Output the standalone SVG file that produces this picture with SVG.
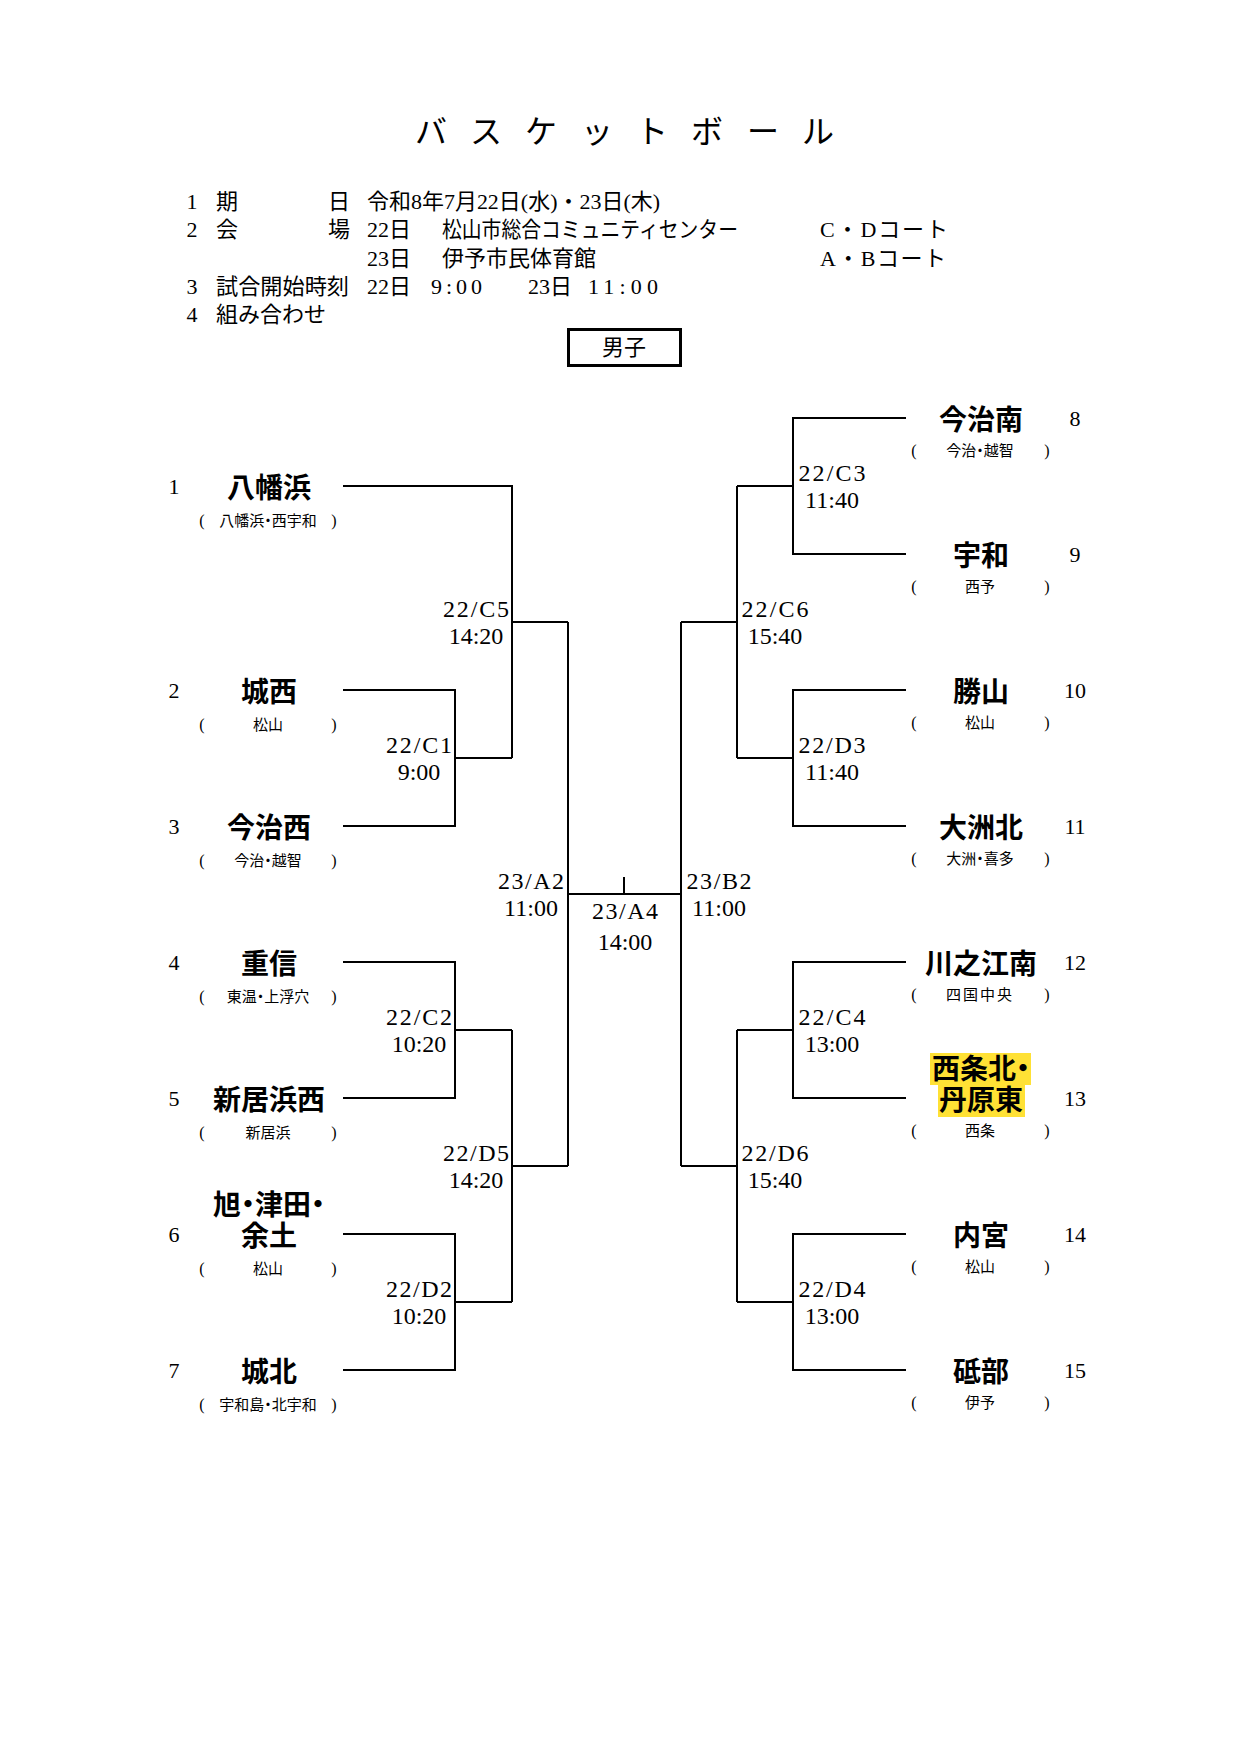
<svg xmlns="http://www.w3.org/2000/svg" width="1240" height="1754" viewBox="0 0 1240 1754">
<style>
.ln{stroke:#000;stroke-width:2;fill:none}
.hd{font-family:"Liberation Serif","Noto Sans CJK JP",serif;font-size:22px;fill:#000}
.tt{font-family:"Noto Sans CJK JP",sans-serif;font-size:32px;text-anchor:middle;fill:#000}
.nm{font-family:"Noto Sans CJK JP",sans-serif;font-weight:bold;font-size:28px;text-anchor:middle;fill:#000;font-feature-settings:"palt"}
.sb{font-family:"Noto Sans CJK JP",sans-serif;font-size:15px;text-anchor:middle;fill:#000;font-feature-settings:"palt"}
.pr{font-family:"Liberation Serif",serif;font-size:16px;text-anchor:middle;fill:#000}
.no{font-family:"Liberation Serif",serif;font-size:22px;text-anchor:middle;fill:#000}
.mc{font-family:"Liberation Serif",serif;font-size:24px;text-anchor:middle;fill:#000}
.hl{fill:#FFE135}
</style>
<rect width="1240" height="1754" fill="#fff"/>

<g id="header">
<text class="tt" x="431 486 541 597 652 707 763 818" y="143">バスケットボール</text>
<text class="hd" x="192" y="209" text-anchor="middle">1</text>
<text class="hd" x="216" y="209">期</text>
<text class="hd" x="350" y="209" text-anchor="end">日</text>
<text class="hd" x="367" y="209" textLength="293" lengthAdjust="spacingAndGlyphs">令和8年7月22日(水)・23日(木)</text>
<text class="hd" x="192" y="237" text-anchor="middle">2</text>
<text class="hd" x="216" y="237">会</text>
<text class="hd" x="350" y="237" text-anchor="end">場</text>
<text class="hd" x="367" y="237">22日</text>
<text class="hd" x="442" y="237" textLength="296" lengthAdjust="spacingAndGlyphs">松山市総合コミュニティセンター</text>
<text class="hd" x="820" y="237" textLength="128" lengthAdjust="spacing">C・Dコート</text>
<text class="hd" x="367" y="266">23日</text>
<text class="hd" x="442" y="266">伊予市民体育館</text>
<text class="hd" x="820" y="266" textLength="126" lengthAdjust="spacing">A・Bコート</text>
<text class="hd" x="192" y="294" text-anchor="middle">3</text>
<text class="hd" x="216" y="294" textLength="133" lengthAdjust="spacingAndGlyphs">試合開始時刻</text>
<text class="hd" x="367" y="294">22日</text>
<text class="hd" x="431" y="294" textLength="51" lengthAdjust="spacing">9:00</text>
<text class="hd" x="528" y="294">23日</text>
<text class="hd" x="588" y="294" textLength="70" lengthAdjust="spacing">11:00</text>
<text class="hd" x="192" y="322" text-anchor="middle">4</text>
<text class="hd" x="216" y="322">組み合わせ</text>
</g>

<g id="division">
<rect x="568.5" y="329.5" width="112" height="36" fill="none" stroke="#000" stroke-width="3"/>
<text class="hd" x="624" y="355" text-anchor="middle">男子</text>
</g>

<g id="connectors">
<path class="ln" d="M343 486H512V758"/>
<path class="ln" d="M512 622H568"/>
<path class="ln" d="M343 690H455V826H343"/>
<path class="ln" d="M455 758H512"/>
<path class="ln" d="M568 622V1166"/>
<path class="ln" d="M568 894H681"/>
<path class="ln" d="M624 877V894"/>
<path class="ln" d="M343 962H455V1098H343"/>
<path class="ln" d="M455 1030H512"/>
<path class="ln" d="M512 1030V1302"/>
<path class="ln" d="M512 1166H568"/>
<path class="ln" d="M343 1234H455V1370H343"/>
<path class="ln" d="M455 1302H512"/>
<path class="ln" d="M906 418H793V554H906"/>
<path class="ln" d="M793 486H737"/>
<path class="ln" d="M737 486V758"/>
<path class="ln" d="M737 622H681"/>
<path class="ln" d="M906 690H793V826H906"/>
<path class="ln" d="M793 758H737"/>
<path class="ln" d="M681 622V1166"/>
<path class="ln" d="M906 962H793V1098H906"/>
<path class="ln" d="M793 1030H737"/>
<path class="ln" d="M737 1030V1302"/>
<path class="ln" d="M737 1166H681"/>
<path class="ln" d="M906 1234H793V1370H906"/>
<path class="ln" d="M793 1302H737"/>
</g>

<g id="match-labels">
<g id="m-C5"><text class="mc" x="476" y="617" textLength="66">22/C5</text><text class="mc" x="476" y="644">14:20</text></g>
<g id="m-C1"><text class="mc" x="419" y="753" textLength="66">22/C1</text><text class="mc" x="419" y="780">9:00</text></g>
<g id="m-A2"><text class="mc" x="531" y="889" textLength="66">23/A2</text><text class="mc" x="531" y="916">11:00</text></g>
<g id="m-C2"><text class="mc" x="419" y="1025" textLength="66">22/C2</text><text class="mc" x="419" y="1052">10:20</text></g>
<g id="m-D5"><text class="mc" x="476" y="1161" textLength="66">22/D5</text><text class="mc" x="476" y="1188">14:20</text></g>
<g id="m-D2"><text class="mc" x="419" y="1297" textLength="66">22/D2</text><text class="mc" x="419" y="1324">10:20</text></g>
<g id="m-A4"><text class="mc" x="625" y="919" textLength="66">23/A4</text><text class="mc" x="625" y="950">14:00</text></g>
<g id="m-B2"><text class="mc" x="719" y="889" textLength="65">23/B2</text><text class="mc" x="719" y="916">11:00</text></g>
<g id="m-C3"><text class="mc" x="832" y="481" textLength="67">22/C3</text><text class="mc" x="832" y="508">11:40</text></g>
<g id="m-C6"><text class="mc" x="775" y="617" textLength="67">22/C6</text><text class="mc" x="775" y="644">15:40</text></g>
<g id="m-D3"><text class="mc" x="832" y="753" textLength="67">22/D3</text><text class="mc" x="832" y="780">11:40</text></g>
<g id="m-C4"><text class="mc" x="832" y="1025" textLength="67">22/C4</text><text class="mc" x="832" y="1052">13:00</text></g>
<g id="m-D6"><text class="mc" x="775" y="1161" textLength="67">22/D6</text><text class="mc" x="775" y="1188">15:40</text></g>
<g id="m-D4"><text class="mc" x="832" y="1297" textLength="67">22/D4</text><text class="mc" x="832" y="1324">13:00</text></g>
</g>

<g id="team-1"><text class="no" x="174" y="494">1</text><text class="nm" x="269" y="498">八幡浜</text><text class="pr" x="202" y="526">(</text><text class="sb" x="268" y="526">八幡浜・西宇和</text><text class="pr" x="334" y="526">)</text></g>
<g id="team-2"><text class="no" x="174" y="698">2</text><text class="nm" x="269" y="702">城西</text><text class="pr" x="202" y="730">(</text><text class="sb" x="268" y="730">松山</text><text class="pr" x="334" y="730">)</text></g>
<g id="team-3"><text class="no" x="174" y="834">3</text><text class="nm" x="269" y="838">今治西</text><text class="pr" x="202" y="866">(</text><text class="sb" x="268" y="866">今治・越智</text><text class="pr" x="334" y="866">)</text></g>
<g id="team-4"><text class="no" x="174" y="970">4</text><text class="nm" x="269" y="974">重信</text><text class="pr" x="202" y="1002">(</text><text class="sb" x="268" y="1002">東温・上浮穴</text><text class="pr" x="334" y="1002">)</text></g>
<g id="team-5"><text class="no" x="174" y="1106">5</text><text class="nm" x="269" y="1110">新居浜西</text><text class="pr" x="202" y="1138">(</text><text class="sb" x="268" y="1138">新居浜</text><text class="pr" x="334" y="1138">)</text></g>
<g id="team-6"><text class="no" x="174" y="1242">6</text><text class="nm"><tspan x="269" y="1215">旭・津田・</tspan><tspan x="269" y="1246">余土</tspan></text><text class="pr" x="202" y="1274">(</text><text class="sb" x="268" y="1274">松山</text><text class="pr" x="334" y="1274">)</text></g>
<g id="team-7"><text class="no" x="174" y="1378">7</text><text class="nm" x="269" y="1382">城北</text><text class="pr" x="202" y="1410">(</text><text class="sb" x="268" y="1410">宇和島・北宇和</text><text class="pr" x="334" y="1410">)</text></g>

<g id="team-8"><text class="no" x="1075" y="426">8</text><text class="nm" x="981" y="430">今治南</text><text class="pr" x="914" y="456">(</text><text class="sb" x="980" y="456">今治・越智</text><text class="pr" x="1047" y="456">)</text></g>
<g id="team-9"><text class="no" x="1075" y="562">9</text><text class="nm" x="981" y="566">宇和</text><text class="pr" x="914" y="592">(</text><text class="sb" x="980" y="592">西予</text><text class="pr" x="1047" y="592">)</text></g>
<g id="team-10"><text class="no" x="1075" y="698">10</text><text class="nm" x="981" y="702">勝山</text><text class="pr" x="914" y="728">(</text><text class="sb" x="980" y="728">松山</text><text class="pr" x="1047" y="728">)</text></g>
<g id="team-11"><text class="no" x="1075" y="834">11</text><text class="nm" x="981" y="838">大洲北</text><text class="pr" x="914" y="864">(</text><text class="sb" x="980" y="864">大洲・喜多</text><text class="pr" x="1047" y="864">)</text></g>
<g id="team-12"><text class="no" x="1075" y="970">12</text><text class="nm" x="981" y="974">川之江南</text><text class="pr" x="914" y="1000">(</text><text class="sb" x="980" y="1000" letter-spacing="2">四国中央</text><text class="pr" x="1047" y="1000">)</text></g>
<g id="team-13"><rect class="hl" x="930" y="1053" width="101" height="32"/><rect class="hl" x="938" y="1085" width="87" height="32"/><text class="no" x="1075" y="1106">13</text><text class="nm"><tspan x="981" y="1079">西条北・</tspan><tspan x="981" y="1110">丹原東</tspan></text><text class="pr" x="914" y="1136">(</text><text class="sb" x="980" y="1136">西条</text><text class="pr" x="1047" y="1136">)</text></g>
<g id="team-14"><text class="no" x="1075" y="1242">14</text><text class="nm" x="981" y="1246">内宮</text><text class="pr" x="914" y="1272">(</text><text class="sb" x="980" y="1272">松山</text><text class="pr" x="1047" y="1272">)</text></g>
<g id="team-15"><text class="no" x="1075" y="1378">15</text><text class="nm" x="981" y="1382">砥部</text><text class="pr" x="914" y="1408">(</text><text class="sb" x="980" y="1408">伊予</text><text class="pr" x="1047" y="1408">)</text></g>
</svg>
